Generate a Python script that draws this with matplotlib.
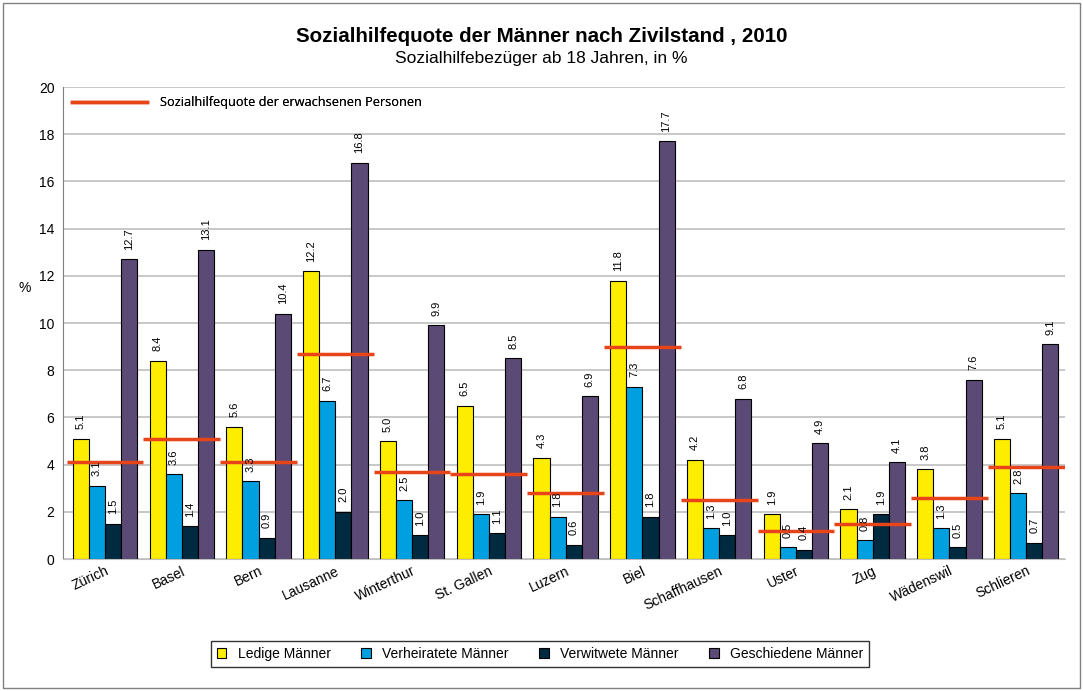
import matplotlib.pyplot as plt
import numpy as np
from matplotlib.patches import Rectangle
from matplotlib.lines import Line2D

plt.rcParams['font.family'] = ['Liberation Sans', 'DejaVu Sans']

staedte = ["Zürich", "Basel", "Bern", "Lausanne", "Winterthur", "St. Gallen", "Luzern",
           "Biel", "Schaffhausen", "Uster", "Zug", "Wädenswil", "Schlieren"]
ledige = [5.1, 8.4, 5.6, 12.2, 5.0, 6.5, 4.3, 11.8, 4.2, 1.9, 2.1, 3.8, 5.1]
verheiratete = [3.1, 3.6, 3.3, 6.7, 2.5, 1.9, 1.8, 7.3, 1.3, 0.5, 0.8, 1.3, 2.8]
verwitwete = [1.5, 1.4, 0.9, 2.0, 1.0, 1.1, 0.6, 1.8, 1.0, 0.4, 1.9, 0.5, 0.7]
geschiedene = [12.7, 13.1, 10.4, 16.8, 9.9, 8.5, 6.9, 17.7, 6.8, 4.9, 4.1, 7.6, 9.1]
erwachsene = [4.1, 5.1, 4.1, 8.7, 3.7, 3.6, 2.8, 9.0, 2.5, 1.2, 1.5, 2.6, 3.9]

serien = [
    ("Ledige Männer", ledige, "#FFED00"),
    ("Verheiratete Männer", verheiratete, "#009FDF"),
    ("Verwitwete Männer", verwitwete, "#002A3F"),
    ("Geschiedene Männer", geschiedene, "#5B4A75"),
]

fig = plt.figure(figsize=(10.83, 6.91), dpi=100)
ax = fig.add_axes([0.058, 0.191, 0.925, 0.683])

x = np.arange(len(staedte))
w = 0.21
for k, (name, werte, farbe) in enumerate(serien):
    pos = x + (k - 1.5) * w
    ax.bar(pos, werte, width=w, color=farbe, edgecolor="black", linewidth=0.8,
           label=name, zorder=2)
    for px, v in zip(pos, werte):
        ax.text(px, v + 0.4, f"{v:.1f}", rotation=90, ha="center", va="bottom",
                fontsize=8, zorder=4)

ax.hlines(erwachsene, x - 0.5, x + 0.5, colors="#E8441A", linewidth=2.5, zorder=3)

ax.set_xlim(-0.55, len(staedte) - 0.5)
ax.set_ylim(0, 20)
ax.set_yticks(range(0, 21, 2))
ax.tick_params(axis="y", labelsize=10, length=0, pad=6)
ax.tick_params(axis="x", length=0, labelsize=10)
ax.set_xticks(x)
ax.set_xticklabels(staedte, rotation=25, ha="right", rotation_mode="anchor")
ax.grid(axis="y", color="#BFBFBF", linewidth=1.2, zorder=0)
ax.set_axisbelow(True)
for s in ["top", "right"]:
    ax.spines[s].set_visible(False)
ax.spines["left"].set_color("#808080")
ax.spines["bottom"].set_color("#BFBFBF")
ax.set_ylabel("%", rotation=0, fontsize=10, labelpad=12)
ax.yaxis.set_label_coords(-0.038, 0.56)

# Legende oben links für die Referenzlinie
leg1 = ax.legend([Line2D([0], [0], color="#E8441A", linewidth=2.5)],
                 ["Sozialhilfequote der erwachsenen Personen"],
                 loc="upper left", bbox_to_anchor=(0.0, 1.0), frameon=False,
                 handlelength=5.9, handletextpad=1.0,
                 prop={"family": "Open Sans", "size": 9.2},
                 borderaxespad=0.3)
ax.add_artist(leg1)

handles = [Rectangle((0, 0), 1, 1, facecolor=c, edgecolor="black", linewidth=0.8)
           for _, _, c in serien]
fig.legend(handles, [n for n, _, _ in serien], loc="center",
           bbox_to_anchor=(0.4985, 0.0535), ncol=4, fontsize=10, frameon=True,
           fancybox=False, edgecolor="black", handlelength=0.7, handleheight=0.7,
           columnspacing=2.2, borderpad=0.4)

fig.text(0.5, 0.947, "Sozialhilfequote der Männer nach Zivilstand , 2010",
         ha="center", va="center", fontsize=14.8, fontweight="bold")
fig.text(0.5, 0.916, "Sozialhilfebezüger ab 18 Jahren, in %",
         ha="center", va="center", fontsize=12.5)

fig.patches.append(Rectangle((0.003, 0.004), 0.994, 0.992, transform=fig.transFigure,
                             fill=False, edgecolor="#808080", linewidth=1.0))

fig.savefig("out.png", dpi=100)
